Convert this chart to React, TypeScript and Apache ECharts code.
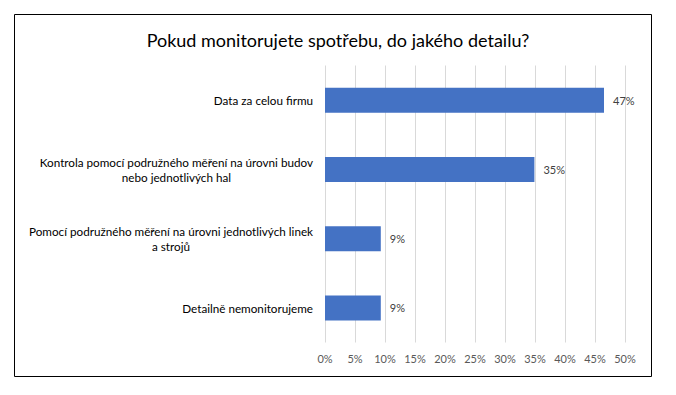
import React, { useEffect, useRef } from "react";
import * as echarts from "echarts";

const titleText = "Pokud monitorujete spotřebu, do jakého detailu?";
const categories = [
  "Data za celou firmu",
  "Kontrola pomocí podružného měření na úrovni budov\nnebo jednotlivých hal",
  "Pomocí podružného měření na úrovni jednotlivých linek\na strojů",
  "Detailně nemonitorujeme",
];
const values = [46.5, 34.9, 9.3, 9.3];
const axisMin = 0;
const axisMax = 50;
const axisStep = 5;

const FONT = "Lato";

export default function App() {
  const ref = useRef<HTMLDivElement>(null);
  useEffect(() => {
    document.body.style.margin = "0";
    const chart = echarts.init(ref.current!, null, { renderer: "svg" });
    chart.setOption({
      animation: false,
      backgroundColor: "#ffffff",
      title: {
        text: titleText,
        left: "center",
        top: 26,
        textStyle: { fontFamily: FONT, fontSize: 18, fontWeight: "normal", color: "#000000" },
      },
      graphic: [
        {
          type: "rect",
          shape: { x: 14.5, y: 14.5, width: 637, height: 362 },
          style: { fill: "none", stroke: "#000000", lineWidth: 1 },
          silent: true,
        },
      ],
      grid: { left: 325, right: 51, top: 65.5, bottom: 52.5, containLabel: false },
      xAxis: {
        type: "value",
        min: axisMin,
        max: axisMax,
        interval: axisStep,
        axisLine: { show: false },
        axisTick: { show: false },
        splitLine: { show: true, lineStyle: { color: "#d9d9d9", width: 1 } },
        axisLabel: {
          formatter: (v: number) => `${v}%`,
          fontFamily: FONT,
          fontSize: 11,
          color: "#595959",
          margin: 10,
        },
      },
      yAxis: {
        type: "category",
        inverse: true,
        data: categories,
        axisLine: { show: false },
        axisTick: { show: false },
        splitLine: { show: false },
        axisLabel: {
          margin: 12,
          align: "right",
          fontFamily: FONT,
          fontSize: 11.7,
          lineHeight: 15,
          formatter: (v: string) =>
            v
              .split("\n")
              .map((l) => `{c|${l}}`)
              .join("\n"),
          rich: {
            c: { align: "center", fontFamily: FONT, fontSize: 11.7, color: "#000000", lineHeight: 15 },
          },
        },
      },
      series: [
        {
          type: "bar",
          data: values,
          barWidth: 25,
          itemStyle: { color: "#4472c4" },
          label: {
            show: true,
            position: "right",
            distance: 9,
            formatter: (p: any) => `${Math.round(p.value)}%`,
            fontFamily: FONT,
            fontSize: 11,
            color: "#404040",
          },
        },
      ],
    });
    return () => chart.dispose();
  }, []);
  return (
    <div
      ref={ref}
      style={{ position: "absolute", left: 0, top: 0, width: 676, height: 395 }}
    />
  );
}
